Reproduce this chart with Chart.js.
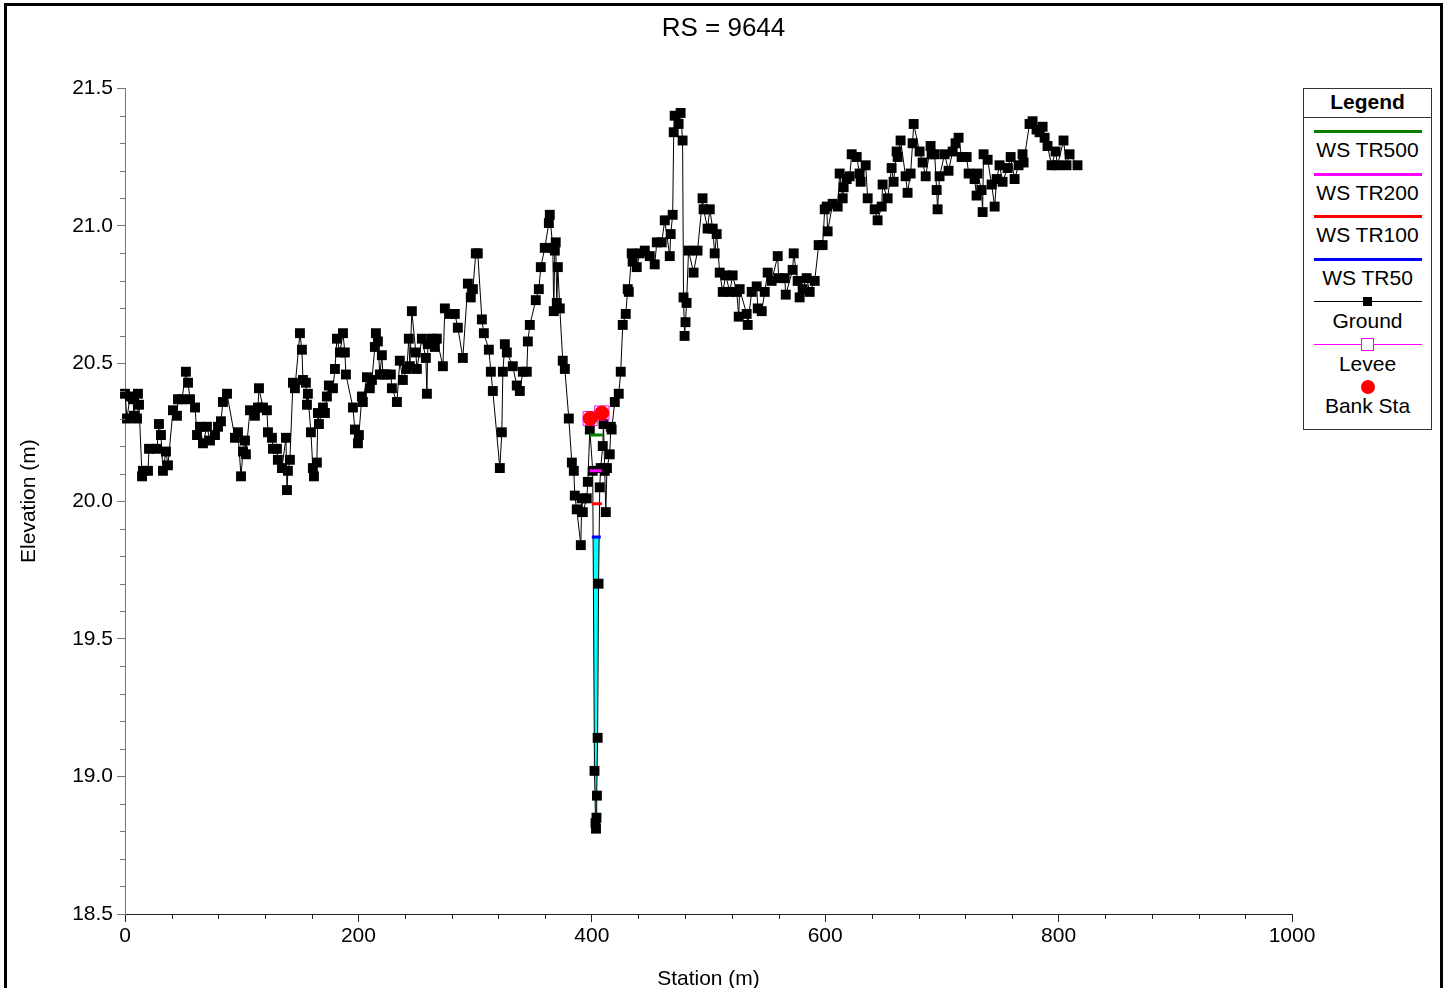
<!DOCTYPE html>
<html>
<head>
<meta charset="utf-8">
<title>RS = 9644</title>
<script src="https://cdn.jsdelivr.net/npm/chart.js@4/dist/chart.umd.min.js"></script>
<style>
  html, body { margin: 0; padding: 0; background: #fff; overflow: hidden; }
  #wrap { position: relative; width: 1447px; height: 988px; overflow: hidden; font-family: "Liberation Sans", Arial, sans-serif; }
  #chart { position: absolute; left: 0; top: 0; }
  #frame { position: absolute; left: 4px; top: 3px; width: 1439px; height: 1100px; border: 3px solid #000; box-sizing: border-box; pointer-events: none; }
  #legend { position: absolute; left: 1303px; top: 88px; width: 129px; height: 342px; border: 1px solid #333; box-sizing: border-box; background: #fff; }
  #legend .txt { position: absolute; left: 0; width: 100%; text-align: center; font-size: 21px; line-height: 24px; color: #000; }
  #legend .hdr { font-weight: bold; }
  #legend .sep { position: absolute; left: 0; width: 100%; top: 28px; height: 0; border-top: 1px solid #333; }
  #legend .ln { position: absolute; left: 10px; width: 108px; }
  #legend .mk { position: absolute; box-sizing: border-box; }
</style>
</head>
<body>
<div id="wrap">
  <canvas id="chart" width="1447" height="1000"></canvas>
  <div id="frame"></div>
  <div id="legend"></div>
</div>
<script>
// ground profile (station m / elevation m)
const groundStation = [
  0, 1.7, 4.3, 6.9, 7.7, 10.3, 11.1, 12.0, 14.6, 15.4,
  19.7, 20.6, 27.4, 29.1, 30.8, 32.5, 35.1, 36.8, 41.1, 44.5,
  45.4, 48.8, 52.2, 54.0, 55.7, 60.0, 61.7, 64.2, 66.8, 70.2,
  72.8, 77.1, 79.7, 82.2, 83.9, 87.4, 94.2, 96.8, 99.4, 101.1,
  102.8, 103.6, 107.1, 111.3, 113.9, 114.8, 118.2, 121.6, 122.5, 125.9,
  126.8, 130.2, 131.0, 134.5, 137.9, 138.8, 139.6, 141.3, 143.9, 145.6,
  149.9, 151.6, 152.5, 155.0, 155.9, 156.7, 159.3, 161.0, 161.9, 164.4,
  165.3, 166.2, 169.6, 171.3, 173.0, 174.7, 178.2, 179.9, 181.6, 184.2,
  186.8, 188.4, 189.3, 195.3, 197.0, 199.6, 200.4, 203.0, 203.8, 207.3,
  209.8, 211.6, 214.1, 215.0, 216.7, 218.4, 220.1, 221.0, 223.5, 227.8,
  228.7, 233.0, 235.5, 238.1, 241.5, 243.2, 244.1, 245.8, 249.2, 250.1,
  254.4, 257.8, 258.7, 259.5, 262.9, 265.5, 267.2, 272.4, 274.1, 278.4,
  282.6, 285.2, 289.5, 293.8, 296.3, 298.1, 300.6, 302.3, 305.8, 307.5,
  311.8, 313.5, 315.2, 321.2, 322.9, 323.8, 325.5, 327.2, 332.3, 335.7,
  338.3, 340.9, 344.3, 345.2, 346.9, 352.0, 354.6, 356.3, 359.7, 363.2,
  364.0, 366.6, 367.4, 368.3, 369.1, 370.0, 370.9, 372.6, 375.1, 376.9,
  380.3, 382.9, 384.6, 385.4, 387.1, 390.6, 391.4, 392.3, 395.7, 396.6,
  398.3, 400.8, 402.3, 403.2, 403.6, 404.0, 404.4, 405.0, 405.8, 406.8,
  407.6, 409.4, 410.0, 411.1, 412.0, 413.0, 415.4, 416.3, 417.0, 419.7,
  423.1, 424.8, 426.5, 429.1, 430.8, 431.7, 434.2, 435.0, 438.5, 441.1,
  445.4, 449.7, 453.9, 455.7, 459.9, 462.5, 466.8, 467.6, 469.3, 470.2,
  471.0, 474.4, 476.1, 477.8, 478.6, 479.5, 480.3, 481.2, 482.9, 487.2,
  490.6, 494.9, 495.8, 499.2, 501.1, 503.6, 505.3, 507.0, 509.6, 512.2,
  514.8, 518.2, 520.7, 524.2, 525.9, 526.7, 532.7, 533.6, 537.0, 541.3,
  542.2, 545.6, 548.2, 550.7, 554.1, 559.3, 560.1, 565.3, 566.2, 572.1,
  573.0, 576.4, 578.1, 580.7, 584.1, 586.7, 591.0, 594.4, 597.8, 599.6,
  601.3, 602.1, 606.4, 610.7, 612.4, 615.0, 615.8, 618.4, 621.0, 622.7,
  627.0, 629.5, 630.4, 634.7, 636.4, 642.4, 644.9, 648.4, 649.2, 653.5,
  656.9, 658.6, 661.2, 662.1, 664.6, 668.9, 670.6, 673.2, 674.9, 675.8,
  680.9, 683.5, 686.1, 690.3, 691.2, 693.8, 695.5, 696.3, 698.0, 702.3,
  705.7, 709.2, 711.7, 714.3, 716.9, 721.2, 722.9, 728.0, 729.7, 730.6,
  734.0, 734.9, 735.7, 739.2, 742.6, 745.2, 746.9, 749.4, 752.0, 756.3,
  758.9, 762.3, 765.7, 769.1, 770.0, 775.1, 777.7, 781.1, 783.7, 786.3,
  788.0, 790.5, 794.0, 797.4, 799.1, 804.2, 806.8, 809.4, 816.2
];
const groundElevation = [
  20.39, 20.30, 20.38, 20.37, 20.31, 20.30, 20.39, 20.35, 20.09, 20.11,
  20.11, 20.19, 20.19, 20.28, 20.24, 20.11, 20.18, 20.13, 20.33, 20.31,
  20.37, 20.37, 20.47, 20.43, 20.37, 20.34, 20.24, 20.27, 20.21, 20.27,
  20.22, 20.24, 20.27, 20.29, 20.36, 20.39, 20.23, 20.25, 20.09, 20.18,
  20.22, 20.17, 20.33, 20.31, 20.34, 20.41, 20.34, 20.33, 20.25, 20.23,
  20.19, 20.19, 20.15, 20.12, 20.23, 20.04, 20.11, 20.15, 20.43, 20.41,
  20.61, 20.55, 20.44, 20.43, 20.35, 20.39, 20.25, 20.12, 20.09, 20.14,
  20.32, 20.28, 20.34, 20.32, 20.38, 20.42, 20.41, 20.48, 20.59, 20.54,
  20.61, 20.54, 20.46, 20.34, 20.26, 20.21, 20.24, 20.38, 20.36, 20.45,
  20.41, 20.44, 20.56, 20.61, 20.58, 20.46, 20.53, 20.46, 20.46, 20.46,
  20.41, 20.36, 20.51, 20.44, 20.48, 20.59, 20.49, 20.69, 20.54, 20.48,
  20.59, 20.52, 20.39, 20.57, 20.59, 20.56, 20.59, 20.49, 20.70, 20.68,
  20.68, 20.63, 20.52, 20.79, 20.74, 20.77, 20.90, 20.90, 20.66, 20.61,
  20.55, 20.47, 20.40, 20.12, 20.25, 20.47, 20.57, 20.54, 20.49, 20.42,
  20.40, 20.47, 20.47, 20.58, 20.64, 20.73, 20.77, 20.85, 20.92, 21.01,
  21.04, 20.92, 20.69, 20.91, 20.94, 20.72, 20.85, 20.70, 20.51, 20.48,
  20.30, 20.14, 20.11, 20.02, 19.97, 19.84, 20.01, 19.96, 20.01, 20.07,
  20.26, 20.11, 19.02, 18.83, 18.81, 18.85, 18.93, 19.14, 19.70, 20.05,
  20.12, 20.20, 20.28, 20.11, 19.96, 20.12, 20.17, 20.27, 20.26, 20.36,
  20.39, 20.47, 20.64, 20.68, 20.77, 20.76, 20.90, 20.87, 20.85, 20.90,
  20.91, 20.89, 20.86, 20.94, 20.94, 21.02, 20.89, 20.97, 21.04, 21.34,
  21.40, 21.37, 21.41, 21.31, 20.74, 20.60, 20.65, 20.72, 20.91, 20.83,
  20.91, 21.10, 21.06, 20.99, 21.06, 20.99, 20.90, 20.97, 20.83, 20.76,
  20.82, 20.76, 20.82, 20.76, 20.67, 20.77, 20.68, 20.64, 20.76, 20.78,
  20.70, 20.69, 20.76, 20.83, 20.80, 20.89, 20.81, 20.81, 20.75, 20.84,
  20.90, 20.80, 20.74, 20.77, 20.81, 20.76, 20.80, 20.93, 20.93, 21.06,
  21.07, 20.98, 21.08, 21.07, 21.19, 21.10, 21.14, 21.17, 21.18, 21.26,
  21.25, 21.19, 21.16, 21.22, 21.10, 21.06, 21.02, 21.07, 21.15, 21.10,
  21.21, 21.16, 21.27, 21.25, 21.31, 21.18, 21.12, 21.19, 21.30, 21.37,
  21.27, 21.23, 21.18, 21.29, 21.26, 21.26, 21.13, 21.06, 21.18, 21.26,
  21.20, 21.27, 21.30, 21.32, 21.25, 21.25, 21.19, 21.17, 21.11, 21.19,
  21.13, 21.05, 21.26, 21.24, 21.15, 21.07, 21.17, 21.22, 21.16, 21.21,
  21.25, 21.17, 21.22, 21.26, 21.23, 21.37, 21.38, 21.35, 21.34, 21.36,
  21.32, 21.29, 21.22, 21.27, 21.22, 21.31, 21.22, 21.26, 21.22
];

// water surfaces
const wsNames = ["WS TR500", "WS TR200", "WS TR100", "WS TR50"];
const wsElevation = [20.24, 20.11, 19.99, 19.87];
const wsLeftStation = [398.3, 398.3, 400.0, 400.0];
const wsRightStation = [409.4, 408.6, 408.6, 407.7];
const wsColors = ["#008000", "#ff00ff", "#ff0000", "#0000ff"];

// levee / bank stations
const bankStation = [398.6, 408.6];
const bankElevation = [20.30, 20.32];

// axis ticks
const stationTicks = [0, 200, 400, 600, 800, 1000];
const elevationTicks = [18.5, 19.0, 19.5, 20.0, 20.5, 21.0, 21.5];

const FONT = "'Liberation Sans', Arial, sans-serif";
Chart.defaults.font.family = FONT;
Chart.defaults.color = "#000";

const groundPts = groundStation.map((s, i) => ({ x: s, y: groundElevation[i] }));
const bankPts = bankStation.map((s, i) => ({ x: s, y: bankElevation[i] }));

// wetted part of the channel below the lowest water surface
function waterPolygon(ws) {
  let iMin = 0;
  groundElevation.forEach((e, i) => { if (e < groundElevation[iMin]) iMin = i; });
  let l = iMin, r = iMin;
  while (l > 0 && groundElevation[l - 1] < ws) l--;
  while (r < groundElevation.length - 1 && groundElevation[r + 1] < ws) r++;
  const cross = (a, b) => {
    const t = (ws - groundElevation[a]) / (groundElevation[b] - groundElevation[a]);
    return groundStation[a] + t * (groundStation[b] - groundStation[a]);
  };
  const pts = [{ x: cross(l - 1, l), y: ws }];
  for (let i = l; i <= r; i++) pts.push({ x: groundStation[i], y: groundElevation[i] });
  pts.push({ x: cross(r, r + 1), y: ws });
  return pts;
}

const wsSets = wsNames.map((name, i) => ({
  label: name,
  data: [{ x: wsLeftStation[i], y: wsElevation[i] }, { x: wsRightStation[i], y: wsElevation[i] }],
  showLine: true,
  borderColor: wsColors[i],
  borderWidth: 3,
  pointRadius: 0
}));

// minor ticks (HEC-RAS style)
const minorTicks = {
  id: "minorTicks",
  afterDraw(chart) {
    const { ctx, scales: { x, y } } = chart;
    ctx.save();
    ctx.lineWidth = 1;
    ctx.strokeStyle = "#222";
    for (let i = 1; i < 25; i++) {
      if (i % 5 === 0) continue;
      const px = Math.round(x.getPixelForValue(i * 40)) + 0.5;
      ctx.beginPath(); ctx.moveTo(px, x.top); ctx.lineTo(px, x.top + 5); ctx.stroke();
    }
    ctx.strokeStyle = "#777";
    for (let i = 1; i < 30; i++) {
      if (i % 5 === 0) continue;
      const py = Math.round(y.getPixelForValue(18.5 + i * 0.1)) + 0.5;
      ctx.beginPath(); ctx.moveTo(y.right - 5, py); ctx.lineTo(y.right, py); ctx.stroke();
    }
    ctx.restore();
  }
};

new Chart(document.getElementById("chart"), {
  type: "scatter",
  data: {
    datasets: [
      { label: "Bank Sta", data: bankPts, pointStyle: "circle", pointRadius: 7,
        pointBackgroundColor: "#ff0000", pointBorderColor: "#ff0000", clip: false },
      { label: "Levee", data: bankPts, pointStyle: "rect", pointRadius: 10,
        pointBackgroundColor: "rgba(0,0,0,0)", pointBorderColor: "#ff00ff", pointBorderWidth: 1, clip: false },
      ...wsSets,
      { label: "Ground", data: groundPts, showLine: true, borderColor: "#000", borderWidth: 1,
        pointStyle: "rect", pointRadius: 7, pointBackgroundColor: "#000", pointBorderColor: "#000",
        pointBorderWidth: 0, clip: false },
      { label: "water", data: waterPolygon(wsElevation[3]), showLine: true, borderWidth: 0,
        pointRadius: 0, backgroundColor: "#00ffff", fill: { value: wsElevation[3] } }
    ]
  },
  options: {
    responsive: false,
    devicePixelRatio: 1,
    animation: false,
    layout: { padding: 0 },
    plugins: {
      legend: { display: false },
      tooltip: { enabled: false },
      title: {
        display: true,
        text: "RS = 9644",
        font: { size: 26, weight: "normal" },
        color: "#000",
        padding: { top: 13, bottom: 44 }
      }
    },
    scales: {
      x: {
        type: "linear",
        min: 0, max: 1000,
        afterBuildTicks: s => { s.ticks = stationTicks.map(v => ({ value: v })); },
        afterFit: s => { s.height = 86; },
        ticks: { font: { size: 21 }, color: "#000", padding: 2, maxRotation: 0, autoSkip: false,
                 callback: v => String(v) },
        grid: { drawOnChartArea: false, tickLength: 8, color: "#222" },
        border: { color: "#222", width: 1 },
        title: { display: true, text: "Station (m)", font: { size: 21 }, color: "#000", padding: { top: 0, bottom: 8 } }
      },
      y: {
        type: "linear",
        min: 18.5, max: 21.5,
        afterBuildTicks: s => { s.ticks = elevationTicks.map(v => ({ value: v })); },
        afterFit: s => { s.width = 125; },
        ticks: { font: { size: 21 }, color: "#000", padding: 4, callback: v => v.toFixed(1) },
        grid: { drawOnChartArea: false, tickLength: 8, color: "#777" },
        border: { color: "#777", width: 1 },
        title: { display: true, text: "Elevation (m)", font: { size: 21 }, color: "#000", padding: { top: 17, bottom: 0 } }
      },
      // empty right-hand axis: keeps the space where the legend box sits
      yRight: {
        position: "right",
        min: 18.5, max: 21.5,
        afterFit: s => { s.width = 155; },
        ticks: { display: false },
        grid: { display: false },
        border: { display: false }
      }
    }
  },
  plugins: [minorTicks]
});

// legend box, laid out like the HEC-RAS one
const legend = document.getElementById("legend");
function add(html) { legend.insertAdjacentHTML("beforeend", html); }
add('<div class="txt hdr" style="top:1px">Legend</div><div class="sep"></div>');
wsNames.forEach((name, i) => {
  const lineTop = 41 + i * 42.5;
  add(`<div class="ln" style="top:${lineTop}px;height:3px;background:${wsColors[i]}"></div>`);
  add(`<div class="txt" style="top:${lineTop + 8}px">${name}</div>`);
});
add('<div class="ln" style="top:212px;height:1px;background:#000"></div>');
add('<div class="mk" style="left:59px;top:208px;width:9px;height:9px;background:#000"></div>');
add('<div class="txt" style="top:220px">Ground</div>');
add('<div class="ln" style="top:255px;height:1px;background:#ff00ff"></div>');
add('<div class="mk" style="left:57px;top:249px;width:13px;height:13px;border:1px solid #ff00ff;background:#fff"></div>');
add('<div class="txt" style="top:263px">Levee</div>');
add('<div class="mk" style="left:57px;top:291px;width:14px;height:14px;border-radius:50%;background:#ff0000"></div>');
add('<div class="txt" style="top:305px">Bank Sta</div>');
</script>
</body>
</html>
